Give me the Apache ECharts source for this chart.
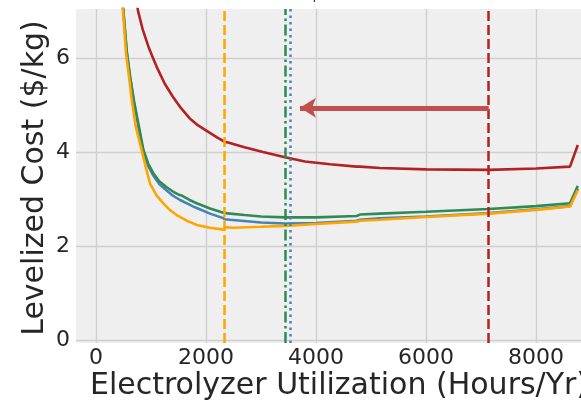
<!DOCTYPE html>
<html>
<head>
<meta charset="utf-8">
<script src="https://cdn.jsdelivr.net/npm/echarts@6/dist/echarts.min.js"></script>
<style>
html,body{margin:0;padding:0;background:#fff;}
#c{width:581px;height:400px;}
</style>
</head>
<body>
<div id="c"></div>
<script>
// ---- data ----
const titleText = '$2.00';
const xLabel = 'Electrolyzer Utilization (Hours/Yr)';
const yLabel = 'Levelized Cost ($/kg)';
const xTicks = [0, 2000, 4000, 6000, 8000];
const yTicks = [0, 2, 4, 6];

const redX = [700, 764, 850, 950, 1036, 1103, 1250, 1400, 1527, 1700, 1850, 2012, 2200, 2333, 2360, 2400, 2700, 3036, 3436, 3800, 4255, 4740, 4800, 5164, 6012, 7140, 8000, 8618, 8760];
const redY = [7.45, 7.0, 6.6, 6.25, 6.0, 5.81, 5.45, 5.17, 4.96, 4.72, 4.57, 4.45, 4.31, 4.22, 4.23, 4.2, 4.1, 4.0, 3.89, 3.8, 3.74, 3.69, 3.69, 3.66, 3.63, 3.62, 3.65, 3.69, 4.15];

const blueX = [470, 497, 558, 620, 691, 770, 861, 950, 1042, 1150, 1285, 1400, 1527, 1700, 1770, 1790, 1810, 2073, 2300, 2345, 2380, 2436, 3000, 3436, 4000, 4740, 4800, 5164, 6000, 7140, 8000, 8618, 8760];
const blueY = [7.4, 7.0, 6.13, 5.58, 5.05, 4.55, 4.0, 3.7, 3.5, 3.32, 3.18, 3.07, 2.98, 2.88, 2.84, 2.86, 2.82, 2.69, 2.6, 2.57, 2.6, 2.56, 2.5, 2.48, 2.49, 2.54, 2.56, 2.59, 2.63, 2.7, 2.78, 2.85, 3.22];

const greenX = [470, 497, 558, 620, 691, 770, 861, 950, 1042, 1150, 1285, 1400, 1510, 1540, 1570, 1700, 1830, 2073, 2345, 2376, 2700, 3000, 3436, 4000, 4740, 4800, 5164, 6000, 7140, 8000, 8618, 8760];
const greenY = [7.4, 7.0, 6.15, 5.6, 5.08, 4.6, 4.05, 3.75, 3.55, 3.38, 3.25, 3.16, 3.09, 3.13, 3.07, 2.98, 2.91, 2.8, 2.7, 2.72, 2.66, 2.63, 2.61, 2.61, 2.64, 2.67, 2.69, 2.73, 2.79, 2.85, 2.91, 3.28];

const orangeX = [450, 490, 545, 600, 649, 720, 830, 900, 982, 1100, 1224, 1340, 1467, 1650, 1830, 2073, 2250, 2315, 2345, 2370, 2500, 3000, 3436, 4000, 4740, 4800, 5164, 6000, 7140, 8000, 8618, 8760];
const orangeY = [7.4, 7.0, 6.1, 5.6, 5.11, 4.55, 4.04, 3.7, 3.33, 3.08, 2.91, 2.77, 2.66, 2.54, 2.45, 2.39, 2.36, 2.35, 2.34, 2.4, 2.39, 2.41, 2.43, 2.47, 2.52, 2.54, 2.56, 2.62, 2.69, 2.77, 2.84, 3.19];

const vOrange = 2333;
const vGreen = 3436;
const vBlue = 3540;
const vRed = 7140;
const arrowY = 4.94;
const arrowFrom = 7140;
const arrowTo = 3709;

// ---- build ----
const pairs = (xs, ys) => xs.map((x, i) => [x, ys[i]]);
const vline = (x, color, dash) => ({
  silent: true, symbol: ['none', 'none'], label: {show: false},
  lineStyle: {color: color, width: 2.5, type: dash, cap: 'butt'},
  emphasis: {disabled: true},
  data: [{xAxis: x}]
});
const lineSeries = (name, xs, ys, color, ml) => ({
  name: name, type: 'line', data: pairs(xs, ys), showSymbol: false, symbol: 'none',
  lineStyle: {color: color, width: 2.6}, itemStyle: {color: color},
  clip: true, animation: false, z: 3,
  markLine: ml
});

const chart = echarts.init(document.getElementById('c'), null, {renderer: 'canvas'});
const font = 'DejaVu Sans';
chart.setOption({
  animation: false,
  backgroundColor: '#ffffff',
  grid: {left: 76, width: 526, top: 9, height: 334, show: true, backgroundColor: '#efefef', borderWidth: 0,
         containLabel: false, outerBoundsMode: 'none'},
  xAxis: {
    type: 'value', min: -364, max: 9200,
    axisLine: {show: false}, axisTick: {show: false, customValues: xTicks},
    axisLabel: {customValues: xTicks, formatter: v => String(v), fontFamily: font, fontSize: 22, color: '#262626', margin: 4},
    splitLine: {show: true, lineStyle: {color: '#cfcfcf', width: 1.4}}
  },
  yAxis: {
    type: 'value', min: -0.06, max: 7.04,
    axisLine: {show: false}, axisTick: {show: false, customValues: yTicks},
    axisLabel: {customValues: yTicks, formatter: v => String(v), fontFamily: font, fontSize: 22, color: '#262626', margin: 6},
    splitLine: {show: true, lineStyle: {color: '#cfcfcf', width: 1.4}}
  },
  graphic: [
    {type: 'text', x: 339, y: 4, style: {text: titleText, font: '22px "DejaVu Sans"', fill: '#262626', align: 'center', verticalAlign: 'bottom'}},
    {type: 'text', x: 339, y: 386, style: {text: xLabel, font: '30px "DejaVu Sans"', fill: '#262626', align: 'center', verticalAlign: 'middle'}},
    {type: 'text', x: 35, y: 178, rotation: Math.PI / 2, style: {text: yLabel, font: '30px "DejaVu Sans"', fill: '#262626', align: 'center', verticalAlign: 'middle'}}
  ],
  series: [
    lineSeries('red', redX, redY, '#b22222', {
      silent: true, label: {show: false}, emphasis: {disabled: true}, symbol: ['none', 'none'],
      data: [
        {xAxis: vRed, lineStyle: {color: '#b22222', width: 2.5, type: [10, 4]}},
        [{coord: [arrowFrom, arrowY], symbol: 'none'}, {coord: [arrowTo, arrowY], symbol: 'arrow', symbolSize: [15, 16], lineStyle: {color: '#c24f4f', width: 5, type: 'solid'}}]
      ]
    }),
    lineSeries('blue', blueX, blueY, '#4682b4', vline(vBlue, '#4682b4', [2.5, 4])),
    lineSeries('green', greenX, greenY, '#2e8b57', vline(vGreen, '#2e8b57', [11, 3.5, 2.5, 3.5])),
    lineSeries('orange', orangeX, orangeY, '#ffa500', vline(vOrange, '#ffa500', [10, 4]))
  ]
});
</script>
</body>
</html>
